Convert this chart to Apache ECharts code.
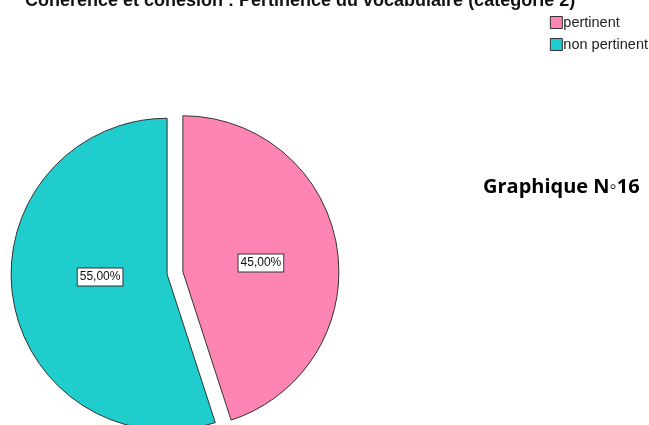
<!DOCTYPE html>
<html>
<head>
<meta charset="utf-8">
<script src="https://cdn.jsdelivr.net/npm/echarts@6/dist/echarts.min.js"></script>
<style>html,body{margin:0;padding:0;background:#fff;}#c{width:649px;height:425px;}</style>
</head>
<body>
<div id="c"></div>
<script>
const categories = ['pertinent', 'non pertinent'];
const values = [45, 55];
const colors = ['#fe85b3', '#1ecdcc'];
const titleText = 'Cohérence et cohésion : Pertinence du vocabulaire (catégorie 2)';
const noteText = 'Graphique N\u25E616';

const labelShifts = [[-2, 4], [13, -10]];

const chart = echarts.init(document.getElementById('c'), null, {renderer: 'canvas'});
chart.setOption({
  animation: false,
  backgroundColor: '#fff',
  title: {
    text: titleText,
    left: 20,
    top: -13,
    textStyle: {fontFamily: 'Liberation Sans, Arial', fontSize: 18, fontWeight: 'bold', color: '#111'}
  },
  legend: {
    orient: 'vertical',
    right: -4,
    top: 10,
    icon: 'rect',
    itemWidth: 12,
    itemHeight: 12,
    itemGap: 7,
    data: categories,
    selectedMode: false,
    itemStyle: {borderColor: '#333', borderWidth: 1},
    textStyle: {fontFamily: 'Liberation Sans, Arial', fontSize: 14.5, color: '#222', padding: [0,0,0,-4]}
  },
  graphic: [{
    type: 'text',
    left: 483,
    top: 177,
    style: {text: noteText, font: 'bold 20px "Open Sans", "Liberation Sans", sans-serif', fill: '#000'}
  }],
  series: [{
    type: 'pie',
    center: [175, 273],
    radius: [0, 156],
    startAngle: 90,
    clockwise: true,
    selectedMode: 'multiple',
    selectedOffset: 8,
    emphasis: {disabled: true},
    itemStyle: {borderColor: '#333', borderWidth: 1},
    label: {
      position: 'inside',
      fontFamily: 'Liberation Sans, Arial',
      fontSize: 12,
      color: '#111',
      backgroundColor: '#fff',
      borderColor: '#333',
      borderWidth: 1,
      padding: [3, 2, 2, 2],
      formatter: p => p.value.toFixed(2).replace('.', ',') + '%'
    },
    labelLayout: p => ({dx: labelShifts[p.dataIndex][0], dy: labelShifts[p.dataIndex][1]}),
    labelLine: {show: false},
    data: categories.map((c, i) => ({
      name: c,
      value: values[i],
      selected: true,
      itemStyle: {color: colors[i]}
    }))
  }]
});
</script>
</body>
</html>
